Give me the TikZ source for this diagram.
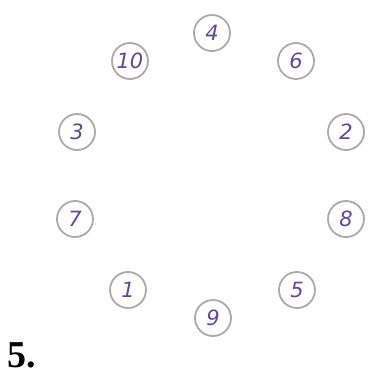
\documentclass[tikz,border=0pt]{standalone}
\usepackage{fontspec}
\setmainfont{Liberation Serif}
\newfontfamily\handfont{DejaVu Sans}
\usepackage{tikz}
\usetikzlibrary{positioning}
\definecolor{inkpurple}{RGB}{95,70,160}
\definecolor{ringgray}{RGB}{170,170,170}

\begin{document}
\begin{tikzpicture}[x=1pt, y=-1pt,
    ring/.style={draw=ringgray, circle, line width=1.8pt, minimum size=36pt, inner sep=0pt,
                 text=inkpurple, font=\handfont\fontsize{21}{21}\selectfont\itshape}]
    \useasboundingbox (0,0) rectangle (374,383);

    % ring of numbered circles
    \foreach \n/\x/\y in {4/212/33, 10/130/61, 6/296/61, 3/77/132, 2/346/132,
                          7/75/219, 8/346/219, 1/128/290, 9/213/318, 5/297/290}
        \node[ring] (c\n) at (\x,\y) {\n};

    % exercise number
    \node[font=\fontsize{38}{38}\selectfont\bfseries, anchor=base west, inner sep=0pt] (num) at (7,367) {5.};
\end{tikzpicture}
\end{document}
